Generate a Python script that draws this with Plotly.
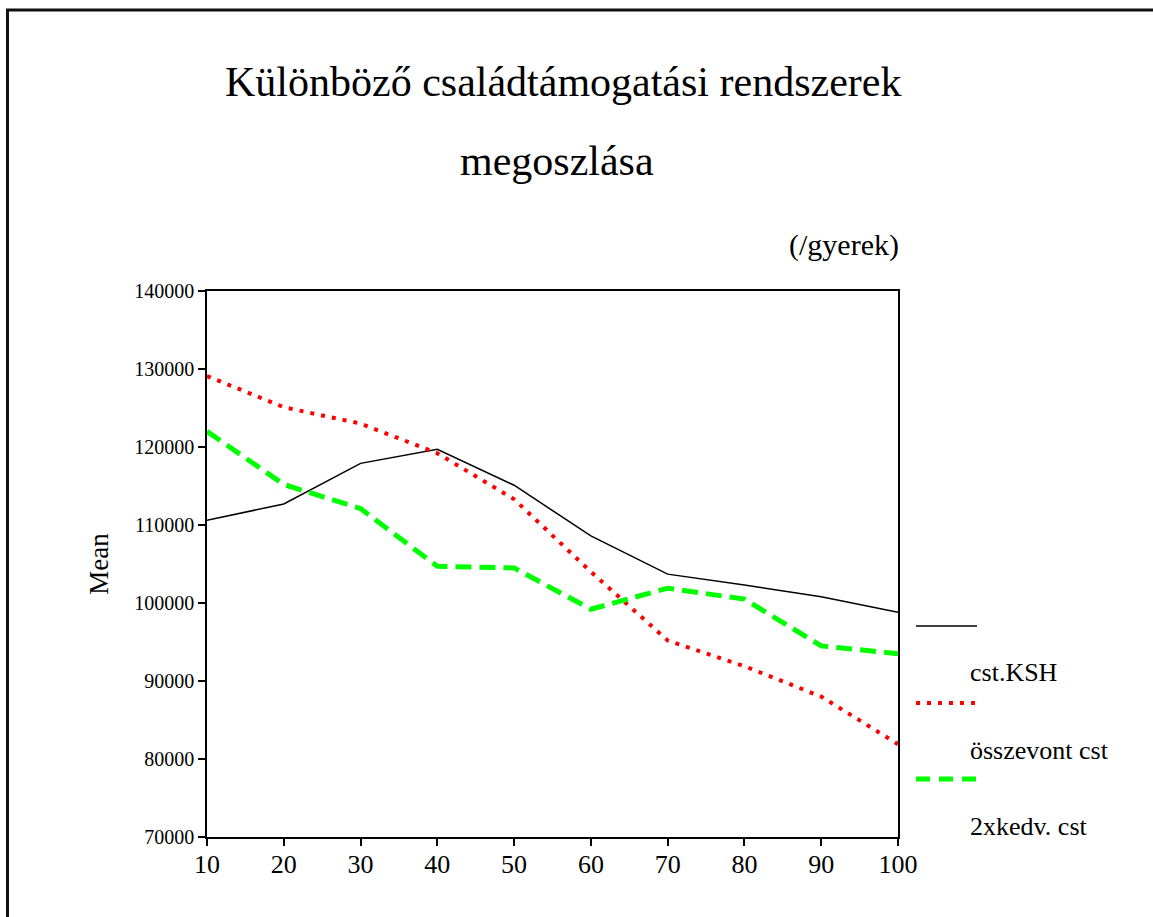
import plotly.graph_objects as go

# ---- data ----
x_vals = [10, 20, 30, 40, 50, 60, 70, 80, 90, 100]
cst_ksh = [110600, 112700, 117900, 119700, 115100, 108600, 103700, 102300, 100800, 98800]
osszevont_cst = [129100, 125100, 123000, 119200, 113300, 104000, 95200, 91900, 88000, 81900]
ketszer_kedv_cst = [122000, 115200, 112100, 104700, 104500, 99200, 101900, 100500, 94500, 93500]
series_names = ["cst.KSH", "összevont cst", "2xkedv. cst"]
y_ticks = [70000, 80000, 90000, 100000, 110000, 120000, 130000, 140000]
x_ticks = x_vals
title_lines = ["Különböző családtámogatási rendszerek", "megoszlása"]
unit_label = "(/gyerek)"

W, H = 1153, 917
# plot area in page pixels
L, R, T, B = 207, 898, 291, 837
FONT = "Liberation Serif"


def px(x):  # page pixel x -> paper
    return (x - L) / (R - L)


def py(y):  # page pixel y -> paper
    return (B - y) / (B - T)


colors = ["#000000", "#FF0000", "#00FF00"]
widths = [1.5, 4, 5]
dashes = ["solid", "4px,7px", "16px,8px"]
data = [cst_ksh, osszevont_cst, ketszer_kedv_cst]

fig = go.Figure()
for name, ys, c, w, d in zip(series_names, data, colors, widths, dashes):
    fig.add_trace(go.Scatter(x=x_vals, y=ys, mode="lines", name=name,
                             line=dict(color=c, width=w, dash=d),
                             showlegend=False, cliponaxis=False))

shapes = []
annotations = []

# frame lines (top and left)
shapes.append(dict(type="line", xref="paper", yref="paper",
                   x0=px(6), x1=px(W), y0=py(10), y1=py(10),
                   line=dict(color="#111111", width=3)))
shapes.append(dict(type="line", xref="paper", yref="paper",
                   x0=px(7.5), x1=px(7.5), y0=py(10), y1=py(H),
                   line=dict(color="#111111", width=3)))

# legend (custom layout: sample line, then label below)
leg_sample_y = [626, 703, 779]
leg_label_y = [672, 750, 826]
for name, c, w, d, sy, ly in zip(series_names, colors, widths, dashes,
                                   leg_sample_y, leg_label_y):
    shapes.append(dict(type="line", xref="paper", yref="paper",
                       x0=px(916), x1=px(977), y0=py(sy), y1=py(sy),
                       line=dict(color=c, width=w if w > 2 else 1.5,
                                 dash=("14px,9px" if d == "16px,8px" else d))))
    annotations.append(dict(text=name, xref="paper", yref="paper",
                            x=px(968), y=py(ly), xanchor="left", yanchor="middle",
                            showarrow=False, font=dict(family=FONT, size=26, color="#000")))

# title lines
annotations.append(dict(text=title_lines[0], xref="paper", yref="paper",
                        x=px(563), y=py(82), xanchor="center", yanchor="middle",
                        showarrow=False, font=dict(family=FONT, size=42, color="#000")))
annotations.append(dict(text=title_lines[1], xref="paper", yref="paper",
                        x=px(557), y=py(161), xanchor="center", yanchor="middle",
                        showarrow=False, font=dict(family=FONT, size=42, color="#000")))
annotations.append(dict(text=unit_label, xref="paper", yref="paper",
                        x=px(901), y=py(245), xanchor="right", yanchor="middle",
                        showarrow=False, font=dict(family=FONT, size=30, color="#000")))

fig.update_layout(
    width=W, height=H,
    margin=dict(l=L, r=W - R, t=T, b=H - B, pad=0),
    paper_bgcolor="white", plot_bgcolor="white",
    shapes=shapes, annotations=annotations,
    font=dict(family=FONT, color="#000"),
    xaxis=dict(range=[10, 100], tickvals=x_ticks, ticks="outside", ticklen=7,
               tickwidth=1.5, tickcolor="#000", showline=True, linecolor="#000",
               linewidth=2, mirror=True, showgrid=False, zeroline=False,
               ticklabelstandoff=-4,
               tickfont=dict(family=FONT, size=26, color="#000")),
    yaxis=dict(range=[70000, 140000], tickvals=y_ticks, ticks="outside", ticklen=7,
               tickwidth=1.5, tickcolor="#000", showline=True, linecolor="#000",
               linewidth=1.5, mirror=True, showgrid=False, zeroline=False,
               tickformat="d",
               tickfont=dict(family=FONT, size=20, color="#000"),
               title=dict(text="Mean", font=dict(family=FONT, size=27, color="#000"),
                          standoff=18)),
)

fig.write_html(
    "out.html",
    config={"displayModeBar": False},
    post_script="document.body.style.margin='0';document.body.style.overflow='hidden';",
)
